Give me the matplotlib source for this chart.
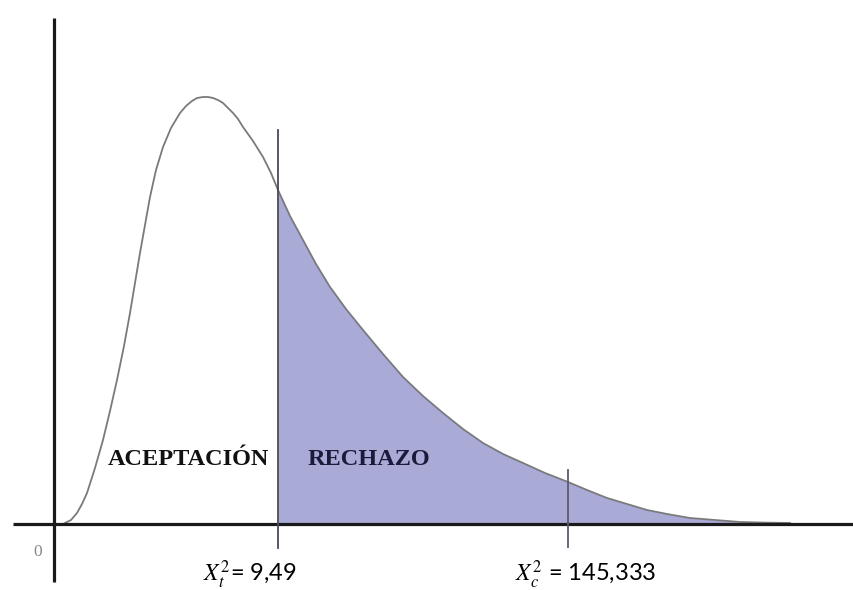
import matplotlib
matplotlib.use("Agg")
import matplotlib.pyplot as plt
import numpy as np

# Curve (x to the right of the vertical axis, y above the baseline)
curve_x = [10, 16, 22, 27, 32, 40, 48, 55, 62, 69, 75, 80, 85, 90, 95, 101, 108, 116,
           125, 131, 137, 142, 148, 153, 158, 163, 168, 173, 178, 183, 188, 198,
           208, 216, 223, 235, 248, 261, 275, 291, 308, 328, 348, 368, 388, 408,
           428, 448, 468, 490, 513, 532, 552, 572, 592, 612, 635, 660, 685, 710, 735]
curve_y = [0, 3, 10, 19, 30, 55, 83, 112, 143, 177, 210, 240, 270, 298, 326, 353, 376, 395,
           410, 417, 422, 425, 426, 426, 425, 423, 420, 415, 410, 404, 396, 382,
           366, 350, 333, 307, 283, 259, 236, 214, 193, 169, 146, 127, 110, 94,
           80, 69, 60, 50, 41, 33, 25, 19, 13, 9, 5, 3, 1, 0.4, 0]

x_tab = 223      # X_t^2 = 9,49 position
x_calc = 513     # X_c^2 = 145,333 position
label_tab = r"$X_t^2$= 9,49"
label_calc = r"$X_c^2$ = 145,333"
region_labels = ["ACEPTACIÓN", "RECHAZO"]

plt.rcParams["mathtext.fontset"] = "stix"

fig = plt.figure(figsize=(8.54, 5.90), dpi=100)
ax = fig.add_axes([0, 0, 1, 1])
ax.set_xlim(-55, 799)
ax.set_ylim(-67, 523)
ax.axis("off")

cx = np.array(curve_x)
cy = np.array(curve_y)
mask = cx >= x_tab
ax.fill_between(cx[mask], 0, cy[mask], color="#aaaad6", linewidth=0, zorder=1)
ax.plot(cx, cy, color="#7a7a7a", lw=1.3, zorder=3, solid_joinstyle="round")

# axes lines
ax.plot([-42, 799], [-1, -1], color="#1a1a1a", lw=2.3, zorder=4, solid_capstyle="butt")
ax.plot([-1, -1], [505, -59], color="#1a1a1a", lw=2.3, zorder=4, solid_capstyle="butt")

# critical lines
ax.plot([x_tab, x_tab], [393, -25], color="#4a4a5e", lw=1.3, zorder=4)
ax.plot([x_calc, x_calc], [53, -24], color="#5a5a70", lw=1.3, zorder=4)

ax.text(-17, -29, "0", color="#8a8a8a", fontsize=12.5, family="Liberation Serif",
        ha="center", va="center")

ax.text(53, 58, region_labels[0], fontsize=17.5, family="Liberation Serif",
        fontweight="bold", color="#111111", ha="left", va="baseline", zorder=5)
ax.text(253, 58, region_labels[1], fontsize=17.5, family="Liberation Serif",
        fontweight="bold", color="#1a1a3a", ha="left", va="baseline", zorder=5)

ax.text(148, -59, label_tab, fontsize=17, family="Lato", color="black",
        ha="left", va="baseline")
ax.text(460, -59, label_calc, fontsize=17, family="Lato", color="black",
        ha="left", va="baseline")

fig.savefig("out.png", dpi=100)
